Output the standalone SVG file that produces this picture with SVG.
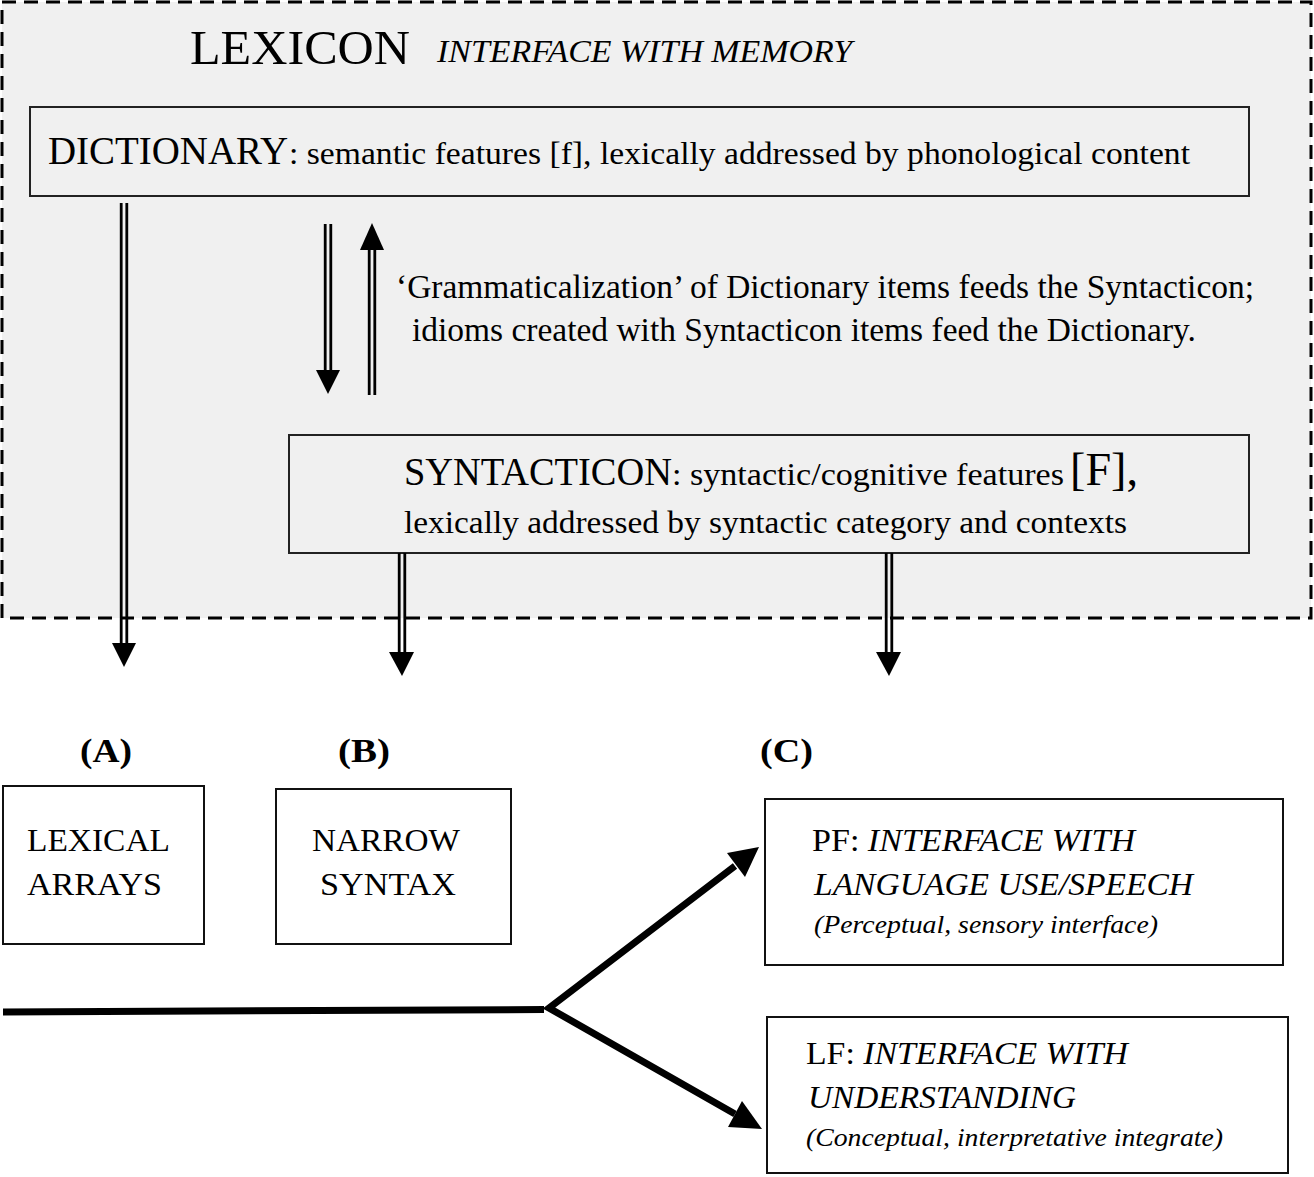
<svg xmlns="http://www.w3.org/2000/svg" width="1314" height="1177" viewBox="0 0 1314 1177">
<style>
text{font-family:"Liberation Serif","Times New Roman",serif;fill:#000}
.it{font-style:italic}
.box{fill:none;stroke:#111;stroke-width:2}
.gbox{fill:#f0f0f0;stroke:#222;stroke-width:2}
.dl{stroke:#000;stroke-width:2.8;fill:none}
.head{fill:#000;stroke:none}
.thick{stroke:#000;stroke-width:7;fill:none}
</style>
<rect width="1314" height="1177" fill="#fff"/>
<g id="lexicon">
<rect x="2" y="2" width="1309" height="616" fill="#f0f0f0" stroke="#000" stroke-width="3" stroke-dasharray="14,8"/>
<text x="190" y="64" font-size="49" textLength="220" lengthAdjust="spacingAndGlyphs">LEXICON</text>
<text x="437" y="62" font-size="31" class="it" textLength="415" lengthAdjust="spacingAndGlyphs">INTERFACE WITH MEMORY</text>
</g>
<g id="dictionary">
<rect class="gbox" x="30" y="107" width="1219" height="89"/>
<text x="48" y="164" font-size="39" textLength="240" lengthAdjust="spacingAndGlyphs">DICTIONARY</text>
<text x="289" y="164" font-size="32" textLength="901" lengthAdjust="spacingAndGlyphs">: semantic features [f], lexically addressed by phonological content</text>
</g>
<g id="grammaticalization-label">
<text x="396" y="298" font-size="33" textLength="858" lengthAdjust="spacingAndGlyphs">‘Grammaticalization’ of Dictionary items feeds the Syntacticon;</text>
<text x="412" y="341" font-size="33" textLength="784" lengthAdjust="spacingAndGlyphs">idioms created with Syntacticon items feed the Dictionary.</text>
</g>
<g id="syntacticon">
<rect class="gbox" x="289" y="435" width="960" height="118"/>
<text x="404" y="485" font-size="39" textLength="268" lengthAdjust="spacingAndGlyphs">SYNTACTICON</text>
<text x="672" y="485" font-size="32" textLength="392" lengthAdjust="spacingAndGlyphs">: syntactic/cognitive features</text>
<text x="1070" y="485" font-size="46" textLength="68" lengthAdjust="spacingAndGlyphs">[F],</text>
<text x="404" y="533" font-size="32" textLength="723" lengthAdjust="spacingAndGlyphs">lexically addressed by syntactic category and contexts</text>
</g>
<g id="label-a"><text x="80" y="762" font-size="33" font-weight="bold" textLength="52" lengthAdjust="spacingAndGlyphs">(A)</text></g>
<g id="label-b"><text x="338" y="762" font-size="33" font-weight="bold" textLength="52" lengthAdjust="spacingAndGlyphs">(B)</text></g>
<g id="label-c"><text x="760" y="762" font-size="33" font-weight="bold" textLength="53" lengthAdjust="spacingAndGlyphs">(C)</text></g>
<g id="lexical-arrays">
<rect class="box" x="3" y="786" width="201" height="158"/>
<text x="27" y="851" font-size="31" textLength="143" lengthAdjust="spacingAndGlyphs">LEXICAL</text>
<text x="27" y="895" font-size="31" textLength="135" lengthAdjust="spacingAndGlyphs">ARRAYS</text>
</g>
<g id="narrow-syntax">
<rect class="box" x="276" y="789" width="235" height="155"/>
<text x="312" y="851" font-size="31" textLength="148" lengthAdjust="spacingAndGlyphs">NARROW</text>
<text x="320" y="895" font-size="31" textLength="136" lengthAdjust="spacingAndGlyphs">SYNTAX</text>
</g>
<g id="pf">
<rect class="box" x="765" y="799" width="518" height="166"/>
<text x="812" y="851" font-size="32" textLength="323" lengthAdjust="spacingAndGlyphs">PF: <tspan class="it">INTERFACE WITH</tspan></text>
<text x="814" y="895" font-size="32" class="it" textLength="379" lengthAdjust="spacingAndGlyphs">LANGUAGE USE/SPEECH</text>
<text x="814" y="933" font-size="25" class="it" textLength="344" lengthAdjust="spacingAndGlyphs">(Perceptual, sensory interface)</text>
</g>
<g id="lf">
<rect class="box" x="767" y="1017" width="521" height="156"/>
<text x="806" y="1064" font-size="32" textLength="322" lengthAdjust="spacingAndGlyphs">LF: <tspan class="it">INTERFACE WITH</tspan></text>
<text x="808" y="1108" font-size="32" class="it" textLength="268" lengthAdjust="spacingAndGlyphs">UNDERSTANDING</text>
<text x="806" y="1146" font-size="25" class="it" textLength="417" lengthAdjust="spacingAndGlyphs">(Conceptual, interpretative integrate)</text>
</g>
<g id="connectors">
<line class="dl" x1="121.2" y1="203" x2="121.2" y2="646"/>
<line class="dl" x1="126.8" y1="203" x2="126.8" y2="646"/>
<polygon class="head" points="112,643 136,643 124,667"/>
<line class="dl" x1="325.2" y1="224" x2="325.2" y2="372"/>
<line class="dl" x1="330.8" y1="224" x2="330.8" y2="372"/>
<polygon class="head" points="316,370 340,370 328,394"/>
<line class="dl" x1="369.2" y1="247" x2="369.2" y2="395"/>
<line class="dl" x1="374.8" y1="247" x2="374.8" y2="395"/>
<polygon class="head" points="360,250 384,250 372,223"/>
<line class="dl" x1="399.2" y1="553" x2="399.2" y2="654"/>
<line class="dl" x1="404.8" y1="553" x2="404.8" y2="654"/>
<polygon class="head" points="389,652 414,652 402,676"/>
<line class="dl" x1="886.2" y1="553" x2="886.2" y2="654"/>
<line class="dl" x1="891.8" y1="553" x2="891.8" y2="654"/>
<polygon class="head" points="876,652 901,652 889,676"/>
<line class="thick" x1="3" y1="1012" x2="544" y2="1009.5"/>
<polyline class="thick" points="735,866 549,1008 735,1114" stroke-linejoin="miter"/>
<polygon class="head" points="759,847 745,877 727,853"/>
<polygon class="head" points="762,1129 728,1127 742,1101"/>
</g>
</svg>
